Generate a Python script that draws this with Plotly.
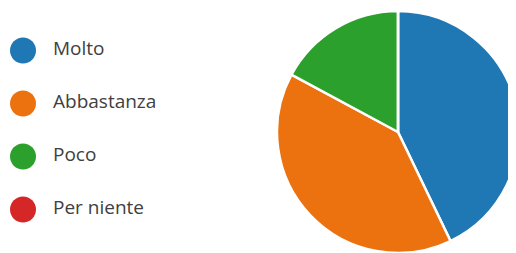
import plotly.graph_objects as go

categories = ["Molto", "Abbastanza", "Poco", "Per niente"]
counts = [15, 14, 6, 0]
colors = ["#1f77b4", "#ec7210", "#2ca02c", "#d62728"]

W, H = 516, 253
OFF = 8  # page body margin offset
idx = list(range(len(categories)))

fig = go.Figure()

# pie
cx, cy, r = 398 - OFF, 132 - OFF, 121
fig.add_trace(go.Pie(
    labels=categories, values=counts, sort=False, direction="clockwise",
    rotation=0, marker=dict(colors=colors, line=dict(color="white", width=2.5)),
    textinfo="none", hoverinfo="label+percent", showlegend=False,
    domain=dict(x=[(cx - r) / W, min(1, (cx + r) / W)],
                y=[max(0, 1 - (cy + r) / H), 1 - (cy - r) / H]),
))

# custom legend
label_dx = 30
fig.add_trace(go.Scatter(
    x=[0] * len(categories), y=idx, mode="markers",
    marker=dict(size=26, color=colors, line=dict(width=0)),
    hoverinfo="skip", showlegend=False,
))
fig.add_trace(go.Scatter(
    x=[label_dx] * len(categories), y=idx, mode="text", text=categories,
    textposition="middle right", textfont=dict(size=19, color="#404040", family="Open Sans"),
    hoverinfo="skip", showlegend=False,
))

step = 53.0
top = 50.5 - OFF
left = 23 - OFF
fig.update_layout(
    width=W, height=H, margin=dict(l=0, r=0, t=0, b=0),
    paper_bgcolor="white", plot_bgcolor="rgba(0,0,0,0)",
    xaxis=dict(range=[-left, W - left], visible=False, fixedrange=True),
    yaxis=dict(range=[(H - top) / step, -top / step], visible=False, fixedrange=True),
    font=dict(family="Open Sans"),
)

fig.write_html("out.html")
